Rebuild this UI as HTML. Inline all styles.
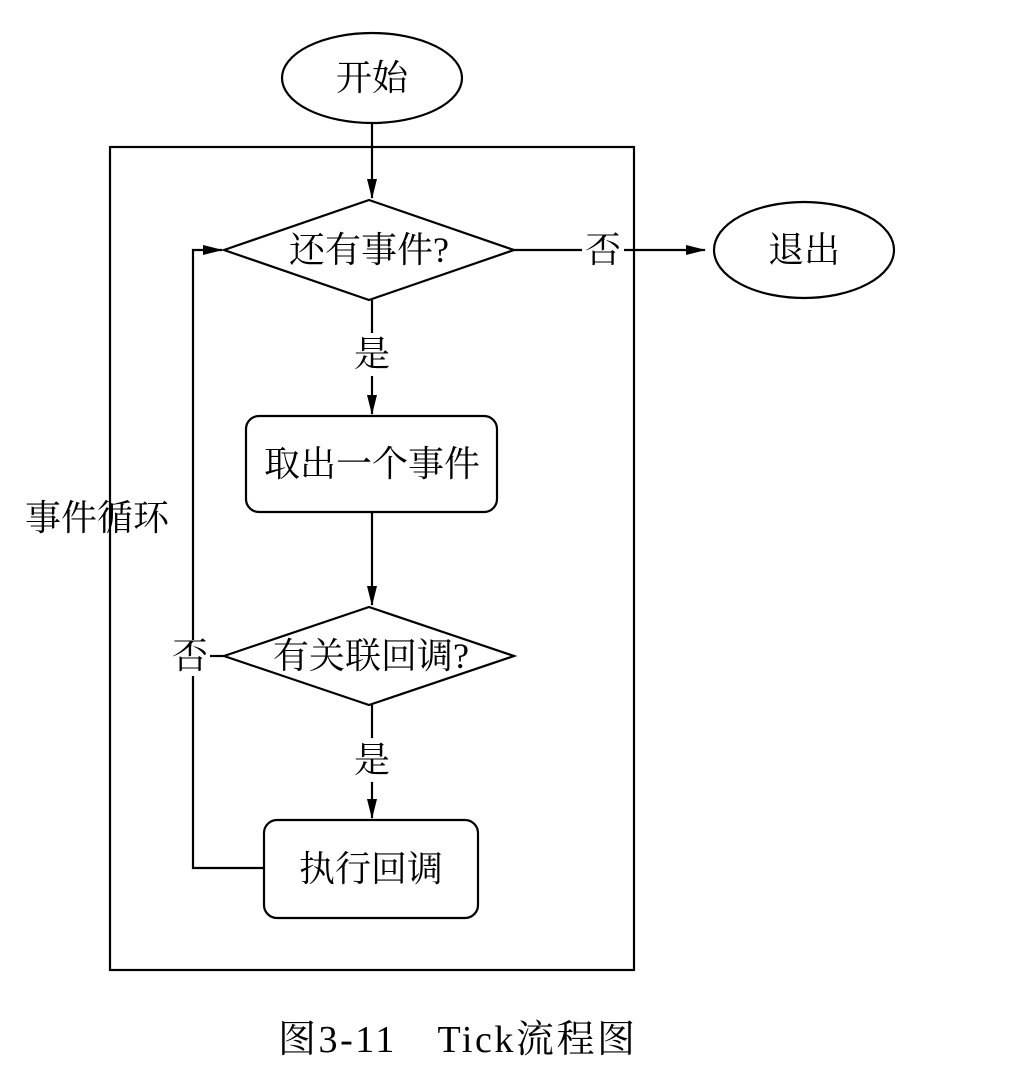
<!DOCTYPE html>
<html><head><meta charset="utf-8"><style>
html,body{margin:0;padding:0;background:#fff}
svg text{font-family:"Liberation Serif","Noto Serif CJK SC",serif;fill:#000}
</style></head><body>
<svg width="1010" height="1080" viewBox="0 0 1010 1080" xmlns="http://www.w3.org/2000/svg">
<defs><marker id="b" markerWidth="20" markerHeight="12" refX="19" refY="6" orient="auto" markerUnits="userSpaceOnUse"><path d="M0,1 L20,6 L0,11 Z" fill="#000"/></marker></defs>
<g stroke="#000" stroke-width="2.2" fill="none">
<ellipse cx="372" cy="78" rx="90" ry="45"/>
<rect x="110" y="147" width="524" height="823"/>
<polygon points="224,250 369,200 514,250 369,300"/>
<ellipse cx="804" cy="250" rx="90" ry="48"/>
<rect x="246" y="416" width="251" height="96" rx="13"/>
<polygon points="224,656 369,607 514,656 369,705"/>
<rect x="264" y="820" width="214" height="98" rx="13"/>
<line x1="372" y1="123" x2="372" y2="198" marker-end="url(#b)"/>
<line x1="514" y1="250" x2="582" y2="250"/>
<line x1="624" y1="250" x2="705" y2="250" marker-end="url(#b)"/>
<line x1="372" y1="300" x2="372" y2="333"/>
<line x1="372" y1="376" x2="372" y2="414" marker-end="url(#b)"/>
<line x1="372" y1="512" x2="372" y2="605" marker-end="url(#b)"/>
<line x1="372" y1="705" x2="372" y2="738"/>
<line x1="372" y1="782" x2="372" y2="818" marker-end="url(#b)"/>
<line x1="224" y1="656" x2="210" y2="656"/>
<polyline points="264,868 193,868 193,676"/>
<polyline points="193,640 193,250 222,250" marker-end="url(#b)"/>
</g>
<g font-size="36" text-anchor="middle" dominant-baseline="central">
<text x="372" y="78">开始</text>
<text x="369" y="250">还有事件?</text>
<text x="603" y="250">否</text>
<text x="804" y="250">退出</text>
<text x="372" y="354">是</text>
<text x="372" y="464">取出一个事件</text>
<text x="371" y="656">有关联回调?</text>
<text x="190" y="656">否</text>
<text x="372" y="760">是</text>
<text x="371" y="869">执行回调</text>
<text x="97" y="518">事件循环</text>
<text x="278" y="1040" font-size="38" text-anchor="start" textLength="357" lengthAdjust="spacing">图3-11　Tick流程图</text>
</g>
</svg>
</body></html>
